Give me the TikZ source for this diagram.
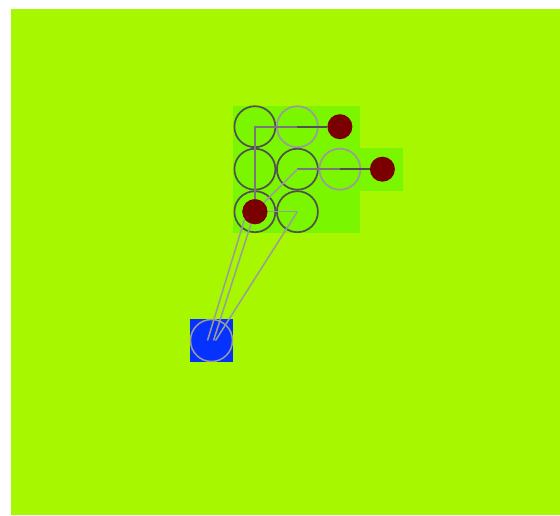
\documentclass[tikz,border=0pt]{standalone}
\usepackage{tikz}
\usepackage{xcolor}

\definecolor{field}{RGB}{166,247,0}
\definecolor{visited}{RGB}{122,246,0}
\definecolor{agentblue}{RGB}{5,50,255}
\definecolor{goalred}{RGB}{122,0,0}
\definecolor{darkring}{RGB}{80,80,80}
\definecolor{lightring}{RGB}{155,155,155}
\definecolor{midline}{RGB}{120,120,120}

\begin{document}
\begin{tikzpicture}[x=1pt,y=-1pt,
  cell/.style={draw=darkring,circle,line width=1.7pt,minimum size=41pt,inner sep=0pt},
  faint/.style={draw=lightring,circle,line width=1.7pt,minimum size=41pt,inner sep=0pt},
  goal/.style={fill=goalred,circle,minimum size=25pt,inner sep=0pt},
  agent/.style={fill=agentblue,draw=lightring,circle,line width=1.5pt,minimum size=42pt,inner sep=0pt},
  trail/.style={draw=lightring,line width=1.5pt},
  mid/.style={draw=midline,line width=1.6pt},
  link/.style={draw=darkring,line width=1.7pt}]

\useasboundingbox (0,0) rectangle (560,515);

% Feld
\fill[field] (11,9) rectangle (560,515);

% besuchte Zellen
\fill[visited] (232.7,105.5) rectangle (360.2,233);
\fill[visited] (360.2,148) rectangle (402.7,190.5);

% Startzelle
\fill[agentblue] (190.2,319) rectangle (232.7,361.5);

% Kreise
\node[cell] (g11) at (254.9,126.7) {};
\node[faint] (g12) at (297.4,126.7) {};
\node[cell] (g21) at (254.9,169.2) {};
\node[cell] (g22) at (297.4,169.2) {};
\node[faint] (g23) at (339.9,169.2) {};
\node[cell] (g31) at (254.9,211.7) {};
\node[cell] (g32) at (297.4,211.7) {};

\node[agent] (a) at (211.5,340.5) {};

% Ziele
\node[goal] (z1) at (339.9,126.7) {};
\node[goal] (z2) at (382.4,169.2) {};
\node[goal] (z3) at (254.9,211.7) {};

% Wege oben
\draw[mid] (g31.center) -- (g11.center) -- (g12.center);
\draw[link] (g12.center) -- (z1);

% Wege Mitte
\draw[mid] (g22.center) -- (g23.center);
\draw[link] (g23.center) -- (z2);
\draw[trail] (g22.center) -- (g31.center);

% Wege unten
\draw[trail] (z3) -- (g32.center);
\draw[trail] ([xshift=-4pt]a.center) -- ([xshift=-8pt]z3.center);
\draw[trail] ([xshift=2pt]a.center) -- (z3.center);
\draw[trail] ([xshift=4pt]a.center) -- (g32.center);

% Ziel unten liegt oben drauf
\node[goal] at (z3) {};

\end{tikzpicture}
\end{document}
